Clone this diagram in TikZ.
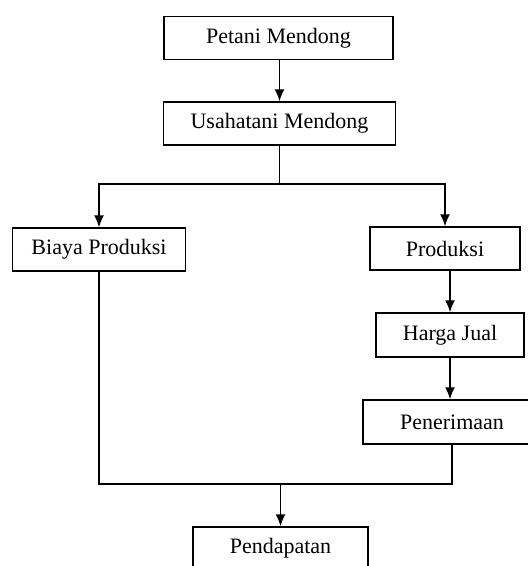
\documentclass[tikz,border=0pt]{standalone}
\usepackage{fontspec}
\setmainfont{Liberation Serif}
\usetikzlibrary{arrows.meta}
\tikzset{box/.style={draw,line width=0.7pt,minimum height=21.5pt,inner sep=2pt,font=\fontsize{11}{13}\selectfont},
         arr/.style={-{Latex[length=6pt,width=5pt]}}}
\begin{document}
\begin{tikzpicture}[x=0.5pt,y=-0.5pt,line width=0.8pt]
                \clip (0,0) rectangle (528,566);
                %% boxes
                \node[box,minimum width=114.5pt] (petani) at (278.5,38) {Petani Mendong};
                \node[box,minimum width=116pt] (usaha) at (279.5,123.5) {Usahatani Mendong};
                \node[box,minimum width=86.5pt] (biaya) at (99,249.5) {Biaya Produksi};
                \node[box,minimum width=75pt] (produksi) at (445,248.5) {Produksi};
                \node[box,minimum width=74pt,minimum height=22pt] (harga) at (450,335) {Harga Jual};
                \node[box,minimum width=89pt,minimum height=22pt] (penerimaan) at (452,422) {Penerimaan};
                \node[box,minimum width=87.5pt] (pendapatan) at (280.5,548.5) {Pendapatan};
                \coordinate (split) at (usaha.south |- 0,184);
                \coordinate (join) at (pendapatan.north |- 0,484);
                %% connectors
                \draw[arr] (petani.south -| usaha.north) -- (usaha.north);
                \draw (usaha.south) -- (split);
                \draw[arr] (split) -| (biaya.north);
                \draw[arr] (split) -| (produksi.north);
                \draw[arr] (harga.north |- produksi.south) -- (harga.north);
                \draw[arr] (harga.south) -- (harga.south |- penerimaan.north);
                \draw (biaya.south) |- (join);
                \draw (penerimaan.south) |- (join);
                \draw[arr] (join) -- (pendapatan.north);
            \end{tikzpicture}
\end{document}
